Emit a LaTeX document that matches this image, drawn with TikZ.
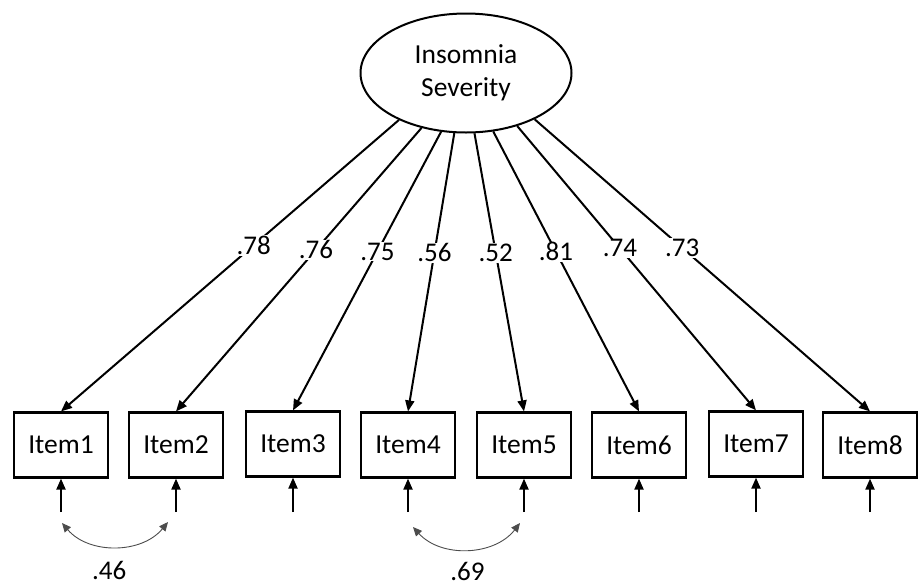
\documentclass[tikz,border=0pt]{standalone}
\usepackage{fontspec}
\setmainfont{Carlito}
\usepackage{tikz}
\usetikzlibrary{shapes.geometric, arrows.meta, positioning}

\begin{document}
\begin{tikzpicture}[
    x=1pt, y=-1pt,
    latent/.style={ellipse, draw, line width=2pt, align=center, font=\fontsize{27.5}{33}\selectfont,
                   minimum width=211pt, minimum height=119pt, inner sep=0pt},
    item/.style={rectangle, draw, line width=2.2pt, font=\fontsize{27.5}{33}\selectfont,
                 minimum width=94pt, minimum height=65pt, inner sep=0pt},
    loading/.style={font=\fontsize{27}{33}\selectfont, fill=white, inner sep=1pt},
    arrow/.style={-{Triangle[length=11pt, width=9pt]}, line width=2pt},
    covar/.style={{Triangle[length=9pt, width=8pt]}-{Triangle[length=9pt, width=8pt]},
                  line width=0.9pt, draw=black!70}
]
    \useasboundingbox (0,0) rectangle (920,587);

    % Latent factor on top
    \node[latent] (ins) at (466,73) {Insomnia\\Severity};

    % Row of observed items
    \node[item] (item1) at (61,445)  {Item1};
    \node[item] (item2) at (176,445) {Item2};
    \node[item] (item3) at (293,444) {Item3};
    \node[item] (item4) at (408,445) {Item4};
    \node[item] (item5) at (524,445) {Item5};
    \node[item] (item6) at (639,445) {Item6};
    \node[item] (item7) at (756,444) {Item7};
    \node[item] (item8) at (870,445) {Item8};

    % ── Factor loadings ──
    \draw[arrow] (ins.215)   -- node[loading, pos=0.43]{.78} (item1.north);
    \draw[arrow] (ins.231.6) -- node[loading, pos=0.43]{.76} (item2.north);
    \draw[arrow] (ins.247)   -- node[loading, pos=0.43]{.75} (item3.north);
    \draw[arrow] (ins.259)   -- node[loading, pos=0.43]{.56} (item4.north);
    \draw[arrow] (ins.278.5) -- node[loading, pos=0.43]{.52} (item5.north);
    \draw[arrow] (ins.295)   -- node[loading, pos=0.43]{.81} (item6.north);
    \draw[arrow] (ins.314)   -- node[loading, pos=0.43]{.74} (item7.north);
    \draw[arrow] (ins.326.5) -- node[loading, pos=0.44]{.73} (item8.north);

    % ── Error terms below each item ──
    \foreach \i/\x in {1/61, 2/176, 3/293, 4/408, 5/524, 6/639, 7/756, 8/870} {
        \coordinate (e\i) at (\x,512);
        \draw[arrow] (e\i) -- (item\i.south);
    }

    % ── Correlated errors ──
    \draw[covar] ([xshift=1pt, yshift=-11pt]e1) to[bend right=50]
                 node[below=11pt, xshift=-6pt, font=\fontsize{27}{33}\selectfont]{.46}
                 ([xshift=-8pt, yshift=-10pt]e2);
    \draw[covar] ([xshift=5pt, yshift=-15pt]e4) to[bend right=50]
                 node[below=9pt, font=\fontsize{27}{33}\selectfont]{.69}
                 ([xshift=-4pt, yshift=-11pt]e5);
\end{tikzpicture}
\end{document}
